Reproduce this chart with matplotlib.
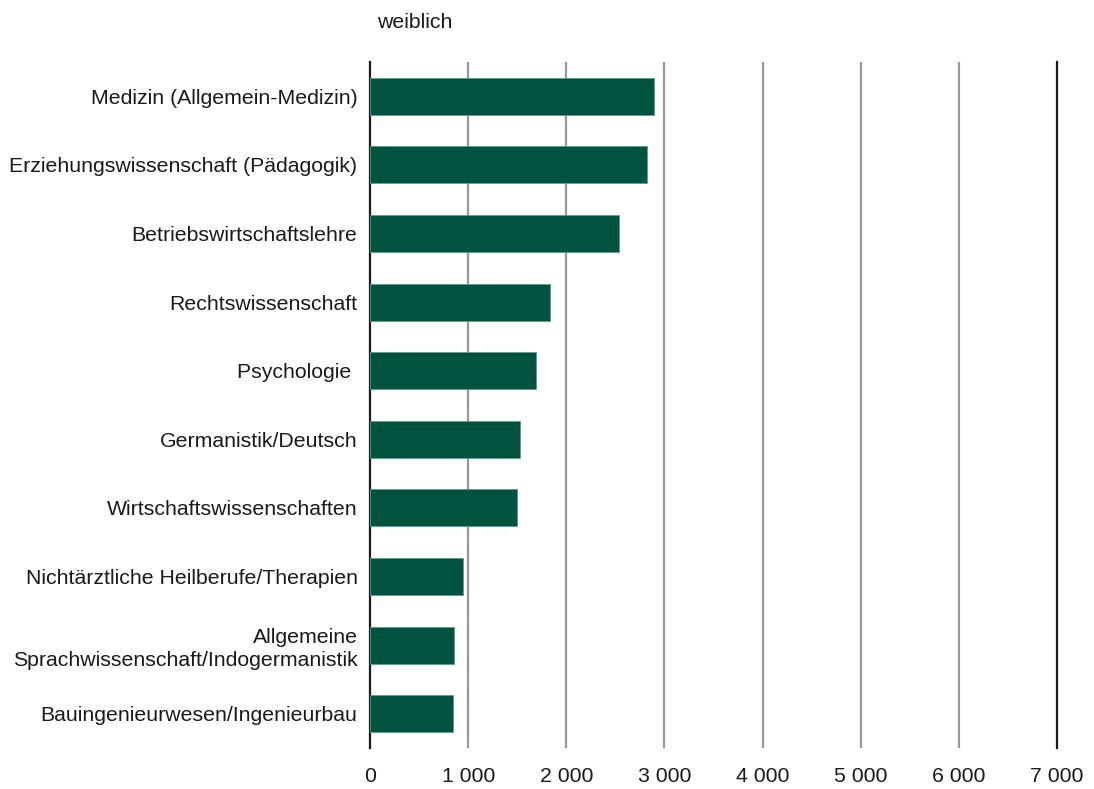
from matplotlib import pyplot as plt

# Daten
faecher = [
    "Medizin (Allgemein-Medizin)",
    "Erziehungswissenschaft (Pädagogik)",
    "Betriebswirtschaftslehre",
    "Rechtswissenschaft",
    "Psychologie ",
    "Germanistik/Deutsch",
    "Wirtschaftswissenschaften",
    "Nichtärztliche Heilberufe/Therapien",
    "Allgemeine\nSprachwissenschaft/Indogermanistik",
    "Bauingenieurwesen/Ingenieurbau",
]
weiblich = [2890, 2818, 2541, 1838, 1695, 1532, 1502, 949, 853, 843]
xticks = [0, 1000, 2000, 3000, 4000, 5000, 6000, 7000]
xtick_labels = ["0", "1 000", "2 000", "3 000", "4 000", "5 000", "6 000", "7 000"]

plt.rcParams["font.family"] = ["Liberation Sans", "DejaVu Sans"]
fs = 15.3

fig = plt.figure(figsize=(10.94, 7.89), dpi=100)
ax = fig.add_axes([370 / 1094, 1 - 748 / 789, (1057 - 370) / 1094, (748 - 62) / 789])

pos = list(range(len(faecher)))
ax.barh(pos, weiblich, height=0.54, color="#00543f", edgecolor="#5f9c8c",
        linewidth=0.6, zorder=3)

ax.set_xlim(0, 7000)
ax.set_ylim(len(faecher) - 0.5, -0.5)

for x in xticks[1:-1]:
    ax.axvline(x, color="#999999", linewidth=1.6, zorder=1)

ax.set_xticks(xticks)
ax.set_xticklabels(xtick_labels, fontsize=fs, color="#1a1a1a")
ax.set_yticks(pos)
ax.set_yticklabels(faecher, fontsize=fs, color="#1a1a1a", ha="right",
                   multialignment="right", linespacing=1.25)
ax.tick_params(axis="both", length=0)
ax.tick_params(axis="y", pad=9)
ax.tick_params(axis="x", pad=14)

for s in ["top", "bottom"]:
    ax.spines[s].set_visible(False)
ax.spines["left"].set_color("#1a1a1a")
ax.spines["left"].set_linewidth(1.6)
ax.spines["right"].set_color("#1a1a1a")
ax.spines["right"].set_linewidth(1.6)

fig.text(377 / 1094, 1 - 22 / 789, "weiblich", fontsize=fs, color="#1a1a1a",
         ha="left", va="center")

fig.savefig("out.png", dpi=100)
